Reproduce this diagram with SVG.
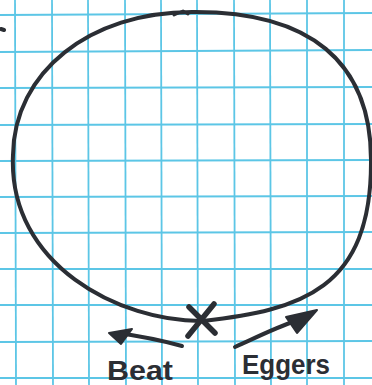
<svg xmlns="http://www.w3.org/2000/svg" width="372" height="385" viewBox="0 0 372 385">
<style>
.grid line{stroke:#5cc6e6;stroke-width:1.8}
.ink{fill:none;stroke:#2b2e34;stroke-linecap:round;stroke-linejoin:round}
.head{fill:#2b2e34;stroke:#2b2e34;stroke-width:2;stroke-linejoin:round}
.lbl{font-family:"Liberation Sans",Arial,sans-serif;font-weight:bold;fill:#2b2e34}
</style>
<rect width="372" height="385" fill="#ffffff"/>
<g class="grid">
<line x1="15" y1="0" x2="16" y2="385"/><line x1="52" y1="0" x2="53" y2="385"/><line x1="88" y1="0" x2="89" y2="385"/><line x1="125" y1="0" x2="126" y2="385"/><line x1="161" y1="0" x2="162" y2="385"/><line x1="197" y1="0" x2="198" y2="385"/><line x1="234" y1="0" x2="235" y2="385"/><line x1="270" y1="0" x2="271" y2="385"/><line x1="307" y1="0" x2="307" y2="385"/><line x1="344" y1="0" x2="344" y2="385"/>
<line x1="0" y1="15" x2="372" y2="13"/><line x1="0" y1="52" x2="372" y2="50"/><line x1="0" y1="88" x2="372" y2="87"/><line x1="0" y1="125" x2="372" y2="124"/><line x1="0" y1="161" x2="372" y2="160"/><line x1="0" y1="197" x2="372" y2="196"/><line x1="0" y1="233" x2="372" y2="232"/><line x1="0" y1="269" x2="372" y2="269"/><line x1="0" y1="305" x2="372" y2="305"/><line x1="0" y1="342" x2="372" y2="341"/><line x1="0" y1="378" x2="372" y2="378"/>
</g>
<g id="circle">
<path class="ink" stroke-width="4" d="M192,12 C310,11 371,62 371,160 C372,290 300,310 203,321 C120,322 8,265 13,155 C14,72 90,12 192,12 Z"/>
<path class="ink" stroke-width="3" d="M174,15 L183,11 L188,14"/>
</g>
<path id="dot" class="ink" stroke-width="4" d="M1,29 L4,30"/>
<g id="cross">
<path class="ink" stroke-width="5.5" d="M189,307 L215,333 M214,304 L188,336"/>
</g>
<g id="connectors">
<path class="ink" stroke-width="4" d="M182,346 C160,340 140,336 118,333"/>
<polygon class="head" points="109,333 132,329 121,344"/>
<path class="ink" stroke-width="4" d="M235,347 C255,338 275,328 295,321"/>
<polygon class="head" points="317,310 286,317 297,333"/>
</g>
<g id="labels">
<text class="lbl" x="107" y="380" font-size="27" textLength="66" lengthAdjust="spacingAndGlyphs">Beat</text>
<text class="lbl" x="242" y="374" font-size="27" textLength="88" lengthAdjust="spacingAndGlyphs">Eggers</text>
</g>
</svg>
